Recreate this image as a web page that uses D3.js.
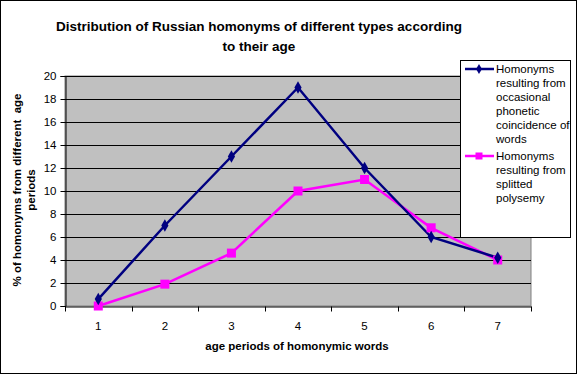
<!DOCTYPE html>
<html><head><meta charset="utf-8">
<script src="https://cdn.jsdelivr.net/npm/d3@7"></script>
<style>body{margin:0;background:#fff;} text{font-family:"Liberation Sans",Arial,sans-serif;white-space:pre;}</style>
</head><body>
<svg id="c" width="577" height="374"></svg>
<script>
const categories = ["1","2","3","4","5","6","7"];
const phonetic = [0.6, 7, 13, 19, 12, 6, 4.2];
const polysemy = [0, 1.9, 4.6, 10, 11, 6.8, 4];
const yTicks = [0,2,4,6,8,10,12,14,16,18,20];
const seriesNames = [
  ["Homonyms","resulting from","occasional","phonetic","coincidence of","words"],
  ["Homonyms","resulting from","splitted","polysemy"]
];

const svg = d3.select("#c");
svg.append("rect").attr("x",0.5).attr("y",0.5).attr("width",576).attr("height",373)
  .attr("fill","#fff").attr("stroke","#000");

const L=65,R=531,T=76,B=306;
const x = d3.scaleBand().domain(categories).range([L,R]);
const y = d3.scaleLinear().domain([0,20]).range([B,T]);

svg.append("rect").attr("x",L).attr("y",T).attr("width",R-L).attr("height",B-T)
  .attr("fill","#C0C0C0").attr("stroke","#808080");

// gridlines
svg.append("g").selectAll("line").data(yTicks.filter(d=>d>0)).join("line")
  .attr("x1",L).attr("x2",R).attr("y1",d=>Math.round(y(d))+0.5).attr("y2",d=>Math.round(y(d))+0.5)
  .attr("stroke","#000");

// y axis
const ya = svg.append("g").attr("transform",`translate(${L+0.5},0)`)
  .call(d3.axisLeft(y).tickValues(yTicks).tickSize(5).tickPadding(4).tickFormat(d3.format("d")));
ya.select(".domain").attr("stroke","#000");
ya.selectAll("text").attr("font-size",11.5).attr("font-family","Liberation Sans, Arial").attr("fill","#000");

// x axis
const xa = svg.append("g").attr("transform",`translate(0,${B+0.5})`)
  .call(d3.axisBottom(x).tickSize(0).tickPadding(15));
xa.select(".domain").attr("stroke","#000");
xa.selectAll("text").attr("font-size",11.5).attr("font-family","Liberation Sans, Arial").attr("fill","#000");
const bounds = categories.map(c=>x(c)).concat([R]);
xa.selectAll("line.b").data(bounds).join("line").attr("class","b")
  .attr("x1",d=>Math.round(d)+0.5).attr("x2",d=>Math.round(d)+0.5).attr("y1",0).attr("y2",5).attr("stroke","#000");

const cx = c=>x(c)+x.bandwidth()/2;
const line = d3.line().x((d,i)=>cx(categories[i])).y(d=>y(d));

svg.append("path").datum(polysemy).attr("d",line).attr("fill","none").attr("stroke","#FF00FF").attr("stroke-width",2.5);
svg.append("path").datum(phonetic).attr("d",line).attr("fill","none").attr("stroke","#000080").attr("stroke-width",2.5);

svg.append("g").selectAll("rect").data(polysemy).join("rect")
  .attr("x",(d,i)=>cx(categories[i])-4.5).attr("y",d=>y(d)-4.5).attr("width",9).attr("height",9).attr("fill","#FF00FF");
svg.append("g").selectAll("path").data(phonetic).join("path")
  .attr("transform",(d,i)=>`translate(${cx(categories[i])},${y(d)})`)
  .attr("d",d3.symbol().type(d3.symbolDiamond).size(45)).attr("fill","#000080");

// title
const title = svg.append("text").attr("x",259).attr("text-anchor","middle")
  .attr("font-size",13.5).attr("font-weight","bold");
title.append("tspan").attr("x",259).attr("y",31).text("Distribution of Russian homonyms of different types according");
title.append("tspan").attr("x",259).attr("y",51).text("to their age");

// axis titles
svg.append("text").attr("x",297).attr("y",350).attr("text-anchor","middle")
  .attr("font-size",11.5).attr("font-weight","bold").text("age periods of homonymic words");
const yt = svg.append("text").attr("transform","translate(0,190) rotate(-90)").attr("text-anchor","middle")
  .attr("font-size",11.5).attr("font-weight","bold");
yt.append("tspan").attr("x",0).attr("y",21).text("% of homonyms from different  age");
yt.append("tspan").attr("x",0).attr("y",35).text("periods");

// legend
svg.append("rect").attr("x",460.5).attr("y",60.5).attr("width",110).attr("height",177)
  .attr("fill","#fff").attr("stroke","#000");
const leg = [{c:"#000080",sym:"d",y0:69,lines:seriesNames[0]},{c:"#FF00FF",sym:"s",y0:156,lines:seriesNames[1]}];
leg.forEach(l=>{
  svg.append("line").attr("x1",465).attr("x2",494).attr("y1",l.y0).attr("y2",l.y0).attr("stroke",l.c).attr("stroke-width",2.5);
  if(l.sym==="d") svg.append("path").attr("transform",`translate(479,${l.y0})`).attr("d",d3.symbol().type(d3.symbolDiamond).size(30)).attr("fill",l.c);
  else svg.append("rect").attr("x",475.5).attr("y",l.y0-3.5).attr("width",7).attr("height",7).attr("fill",l.c);
  l.lines.forEach((t,i)=>svg.append("text").attr("x",496).attr("y",l.y0+4+i*14).attr("font-size",11.5).text(t));
});
</script>
</body></html>
